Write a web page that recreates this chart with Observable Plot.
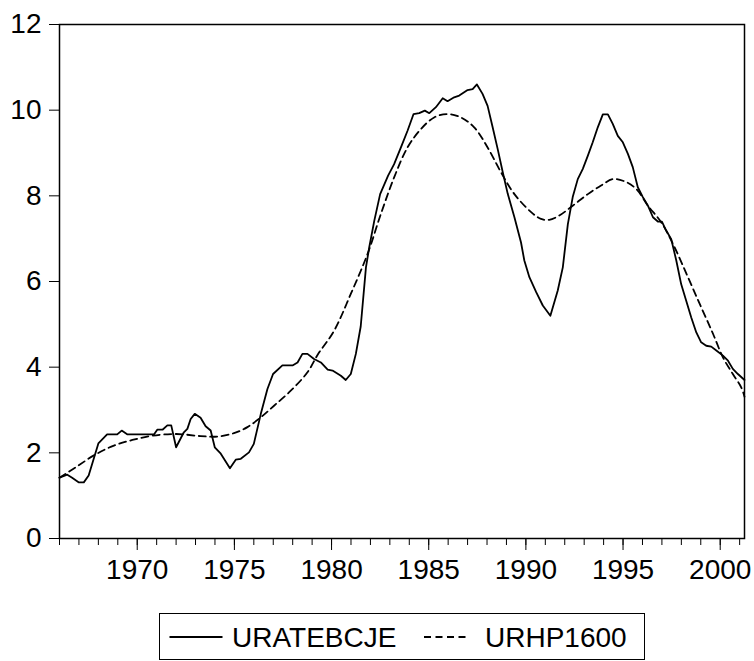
<!DOCTYPE html>
<html>
<head>
<meta charset="utf-8">
<script src="https://cdn.jsdelivr.net/npm/d3@7"></script>
<script src="https://cdn.jsdelivr.net/npm/@observablehq/plot@0.6"></script>
<style>
  html, body { margin: 0; padding: 0; background: #fff; }
  #chart { position: relative; width: 754px; height: 661px; }
</style>
</head>
<body>
<div id="chart"></div>
<script>
const urateDates = [1966.0,1966.4,1966.65,1967.0,1967.25,1967.5,1968.0,1968.45,1968.97,1969.2,1969.5,1970.86,1971.03,1971.3,1971.55,1971.75,1972.0,1972.4,1972.58,1972.75,1972.96,1973.26,1973.52,1973.78,1973.99,1974.3,1974.77,1975.07,1975.33,1975.75,1976.0,1976.36,1976.7,1976.99,1977.47,1977.99,1978.25,1978.5,1978.76,1979.1,1979.45,1979.8,1980.05,1980.48,1980.73,1980.99,1981.25,1981.5,1981.77,1981.94,1982.2,1982.5,1982.91,1983.22,1983.57,1983.91,1984.22,1984.51,1984.8,1985.03,1985.37,1985.72,1985.97,1986.31,1986.57,1987.0,1987.26,1987.48,1987.77,1988.03,1988.29,1988.55,1988.81,1989.07,1989.41,1989.75,1989.92,1990.18,1990.53,1990.87,1991.26,1991.64,1991.9,1992.16,1992.41,1992.67,1992.93,1993.19,1993.44,1993.7,1993.96,1994.22,1994.47,1994.73,1994.99,1995.25,1995.5,1995.76,1996.02,1996.28,1996.54,1996.79,1997.0,1997.22,1997.48,1997.74,1997.99,1998.25,1998.51,1998.77,1999.02,1999.28,1999.54,1999.8,2000.14,2000.4,2000.65,2000.91,2001.25];
const urateValues = [1.42,1.49,1.42,1.31,1.31,1.47,2.22,2.43,2.43,2.52,2.43,2.43,2.54,2.54,2.64,2.64,2.13,2.48,2.56,2.79,2.91,2.82,2.62,2.52,2.13,1.98,1.64,1.84,1.86,2.01,2.21,2.91,3.49,3.84,4.04,4.04,4.11,4.31,4.31,4.19,4.11,3.94,3.92,3.80,3.70,3.84,4.31,4.95,6.33,6.80,7.42,8.04,8.47,8.74,9.13,9.52,9.91,9.93,9.99,9.93,10.07,10.28,10.21,10.30,10.34,10.47,10.49,10.60,10.38,10.10,9.60,9.09,8.55,8.04,7.50,6.91,6.49,6.10,5.75,5.44,5.20,5.79,6.33,7.34,7.97,8.39,8.63,8.94,9.25,9.60,9.90,9.90,9.68,9.40,9.25,8.98,8.67,8.20,7.97,7.77,7.50,7.40,7.40,7.19,6.99,6.49,5.94,5.55,5.16,4.81,4.58,4.50,4.48,4.39,4.27,4.15,3.96,3.84,3.70];

// URHP1600 (HP trend, lambda 1600)
const hpDates = [1966.0,1966.8,1967.77,1968.8,1969.75,1970.78,1972.0,1973.26,1974.12,1974.98,1975.67,1976.36,1977.04,1977.9,1978.76,1979.3,1980.13,1980.99,1981.85,1982.54,1983.22,1983.91,1984.6,1985.28,1985.97,1986.66,1987.34,1988.03,1988.72,1989.41,1990.27,1990.78,1991.2,1991.72,1992.41,1993.19,1993.87,1994.47,1995.07,1995.68,1996.28,1996.97,1997.65,1998.34,1999.02,1999.63,2000.14,2000.65,2001.08,2001.25];
const hpValues = [1.42,1.65,1.94,2.17,2.30,2.40,2.44,2.39,2.38,2.46,2.60,2.83,3.10,3.45,3.88,4.30,4.85,5.71,6.64,7.58,8.43,9.13,9.56,9.83,9.91,9.83,9.60,9.13,8.55,8.04,7.62,7.46,7.44,7.54,7.77,8.04,8.24,8.39,8.34,8.16,7.77,7.38,6.80,6.10,5.40,4.78,4.23,3.84,3.53,3.31];

const seriesNames = ["URATEBCJE", "URHP1600"];
const yTicks = [0, 2, 4, 6, 8, 10, 12];
const majorYears = [1970, 1975, 1980, 1985, 1990, 1995, 2000];
const minorYears = d3.range(1966, 2002);
const xDomain = [1966, 2001.25];

const urate = urateDates.map((d, i) => ({date: d, value: urateValues[i]}));
const hp = hpDates.map((d, i) => ({date: d, value: hpValues[i]}));

const FONT = "'Liberation Sans', Arial, Helvetica, sans-serif";

const plot = Plot.plot({
  width: 754,
  height: 605,
  marginLeft: 59,
  marginRight: 10,
  marginTop: 24,
  marginBottom: 67,
  style: {fontFamily: FONT, fontSize: "28px", color: "black", background: "white", overflow: "visible"},
  x: {domain: xDomain},
  y: {domain: [0, 12]},
  marks: [
    Plot.axisY(yTicks, {tickSize: 10, tickPadding: 8, fontSize: 28, label: null, tickFormat: d => String(d), strokeWidth: 1}),
    Plot.axisX(minorYears, {tickSize: 7, tickFormat: () => "", label: null, strokeWidth: 1}),
    Plot.axisX(majorYears, {tickSize: 12, tickPadding: 9, fontSize: 28, label: null, tickFormat: d => String(d), strokeWidth: 1}),
    Plot.lineY(hp, {x: "date", y: "value", stroke: "black", strokeWidth: 1.8, strokeDasharray: "7,4.5", curve: "catmull-rom"}),
    Plot.lineY(urate, {x: "date", y: "value", stroke: "black", strokeWidth: 1.8, curve: "linear"}),
    Plot.frame({stroke: "black", strokeWidth: 1.5})
  ]
});

const chart = document.getElementById("chart");
chart.appendChild(plot);

// Legend below the plot
const lg = d3.create("svg")
  .attr("width", 754).attr("height", 56)
  .style("display", "block")
  .style("font-family", FONT);
lg.append("rect").attr("x", 159.5).attr("y", 8.5).attr("width", 485).attr("height", 46)
  .attr("fill", "white").attr("stroke", "black").attr("stroke-width", 1);
lg.append("line").attr("x1", 169.5).attr("x2", 222.5).attr("y1", 32).attr("y2", 32)
  .attr("stroke", "black").attr("stroke-width", 1.8);
lg.append("text").attr("x", 232).attr("y", 42).attr("font-size", 28).attr("fill", "black").text(seriesNames[0]);
lg.append("line").attr("x1", 424).attr("x2", 470).attr("y1", 32).attr("y2", 32)
  .attr("stroke", "black").attr("stroke-width", 1.8).attr("stroke-dasharray", "7,4.5");
lg.append("text").attr("x", 485).attr("y", 42).attr("font-size", 28).attr("fill", "black").text(seriesNames[1]);
chart.appendChild(lg.node());
</script>
</body>
</html>
